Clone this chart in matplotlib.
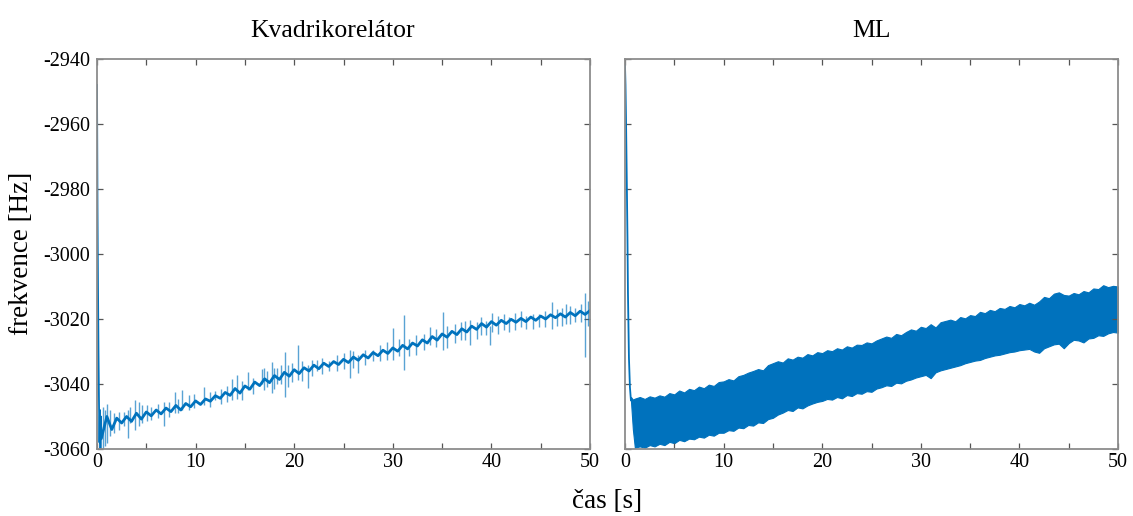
import numpy as np
import matplotlib
matplotlib.use("Agg")
import matplotlib.pyplot as plt
from matplotlib.ticker import MultipleLocator

plt.rcParams['font.family'] = ['Liberation Serif', 'DejaVu Serif']
plt.rcParams['axes.unicode_minus'] = False

BLUE = '#0072BD'

# ---------------- Kvadrikorelator estimate ----------------
# start-up transient
kv_head_t = [0.0, 0.02, 0.05, 0.1, 0.15, 0.2, 0.25, 0.3, 0.35, 0.4, 0.45]
kv_head_v = [-2948, -2962, -2985, -3010, -3030, -3045, -3058, -3048, -3060, -3050, -3057]

# tracked frequency, sampled every 0.5 s from 0.5 s to 50 s
kv_t = np.arange(0.5, 50.01, 0.5)
kv_v = [
    -3056, -3050, -3054, -3050.5, -3052, -3050, -3051.5, -3049, -3050.8, -3048.6,
    -3049.8, -3048, -3049.2, -3047.4, -3048.5, -3046.6, -3048, -3046, -3047, -3045.2,
    -3046.3, -3044.6, -3045.3, -3043.6, -3044.4, -3042.6, -3043.5, -3041.4, -3042.8, -3040.6,
    -3041.6, -3039.4, -3040.5, -3038.4, -3039.6, -3037.4, -3038.6, -3036.4, -3037.6, -3035.6,
    -3036.8, -3035, -3036, -3034.2, -3035.3, -3033.6, -3034.6, -3033.1, -3034, -3032.4,
    -3033.4, -3031.7, -3032.7, -3031, -3032, -3030.3, -3031.3, -3029.6, -3030.6, -3028.9,
    -3029.9, -3028.1, -3029.2, -3027.4, -3028.3, -3026.4, -3027.4, -3025.4, -3026.5, -3024.6,
    -3025.6, -3023.8, -3024.8, -3023, -3024, -3022.2, -3023.2, -3021.4, -3022.5, -3020.8,
    -3021.9, -3020.4, -3021.4, -3020.1, -3021, -3019.8, -3020.8, -3019.4, -3020.4, -3019.1,
    -3020, -3018.7, -3019.6, -3018.4, -3019.4, -3018, -3019, -3017.6, -3018.6, -3017.4,
]

# outlier excursions: time, lowest value, highest value
kv_spike_t = [0.6, 0.8, 1.0, 1.3, 1.7, 2.2, 3.1, 3.3, 3.9, 4.3, 4.6, 5.5, 6.8, 7.9,
              8.6, 9.3, 10.9, 12.0, 13.7, 14.2, 14.7, 15.3, 16.7, 16.9, 17.7, 18.3,
              19.1, 19.4, 20.4, 21.4, 22.3, 23.5, 25.7, 26.0, 26.5, 28.0, 30.0, 31.1,
              31.6, 33.8, 35.1, 35.5, 37.8, 38.5, 39.9, 40.1, 41.8, 43.5, 44.8, 46.1,
              47.2, 48.0, 49.5, 49.8,
              2.7, 5.1, 6.2, 7.3, 8.2, 9.8, 11.5, 12.6, 13.2, 15.8, 17.2, 18.0, 18.7,
              19.8, 20.8, 21.8, 22.8, 24.3, 25.1, 27.2, 28.7, 29.4, 30.6, 32.4, 33.2,
              34.4, 36.3, 36.9, 37.3, 38.9, 39.5, 40.7, 41.3, 42.4, 43.0, 44.2, 45.4,
              46.7, 47.6, 48.5, 49.1]
kv_spike_lo = [-3060, -3059, -3058, -3056, -3055, -3054, -3056.5, -3052, -3054, -3053,
               -3052, -3051, -3053, -3049, -3048, -3048, -3046.5, -3045, -3045, -3044.5,
               -3045, -3041.8, -3040, -3041.8, -3042.8, -3040, -3043.9, -3041, -3038.8,
               -3041.2, -3036, -3036, -3038, -3035, -3036.5, -3033, -3032.6, -3035.7,
               -3031.5, -3028, -3029.5, -3029, -3028, -3026, -3028, -3024, -3024, -3023,
               -3022.5, -3023, -3022, -3021.5, -3031.6, -3022,
               -3053, -3051.5, -3050.5, -3050, -3049, -3047.5, -3047, -3046, -3045.5,
               -3043, -3041, -3041.5, -3040, -3039.5, -3039, -3037.5, -3037, -3036,
               -3035.5, -3034, -3033, -3032.5, -3031.5, -3031, -3029.5, -3028.5, -3027.5,
               -3026.5, -3026.5, -3025, -3025, -3024.5, -3023.5, -3023.5, -3022.5, -3023,
               -3022.5, -3022, -3021.5, -3021, -3021]
kv_spike_hi = [-3047, -3048, -3046, -3048, -3049, -3048.5, -3048, -3047, -3045, -3045.5,
               -3046.5, -3047, -3045.4, -3042.4, -3041.8, -3043.5, -3040.8, -3042, -3038.5,
               -3037.2, -3039, -3036.2, -3035.4, -3035, -3033.1, -3035, -3030, -3034,
               -3028, -3034, -3032.6, -3033, -3029.5, -3029.8, -3031, -3029.5, -3022.8,
               -3018.8, -3026, -3022.4, -3017.8, -3022, -3020.3, -3021, -3022, -3018,
               -3019.5, -3019, -3018.5, -3014.9, -3016.5, -3016, -3011.9, -3014.5,
               -3048.5, -3046.5, -3046, -3045.5, -3044.5, -3043, -3042.5, -3041.5, -3040.5,
               -3038, -3036, -3035, -3034, -3033.5, -3033, -3032.5, -3032, -3031,
               -3030.5, -3029.5, -3028, -3027, -3026, -3025, -3024.5, -3023, -3021.5,
               -3021, -3020.5, -3019.5, -3020.5, -3019, -3018.5, -3018, -3017.5, -3018.5,
               -3017.5, -3017, -3015.5, -3016.5, -3015.5]

# ---------------- ML estimate ----------------
ml_head_t = [0.0, 0.05, 0.1, 0.15, 0.2, 0.25, 0.3, 0.35, 0.4, 0.5, 0.6]
ml_head_v = [-2942, -2948, -2958, -2970, -2982, -2995, -3012, -3022, -3032, -3041, -3045]

# envelope of the fast oscillation (upper / lower), 0.6 s, 0.8 s, then every 0.5 s
ml_band_t = np.concatenate([[0.6, 0.8], np.arange(1.0, 50.01, 0.5)])
ml_upper = [
    -3044.0, -3044.8,
    -3044.5, -3044.0, -3044.6, -3043.8, -3044.2, -3043.5, -3043.9, -3042.8, -3043.2, -3042.0,
    -3042.6, -3041.5, -3041.9, -3040.8, -3041.3, -3040.2, -3040.6, -3039.4, -3039.2, -3038.5,
    -3038.9, -3037.6, -3037.2, -3036.5, -3036.0, -3035.4, -3035.8, -3034.2, -3033.6, -3033.0,
    -3033.4, -3032.1, -3032.5, -3031.6, -3031.9, -3030.8, -3031.2, -3030.2, -3030.5, -3029.6,
    -3029.9, -3029.0, -3029.4, -3028.4, -3028.8, -3027.9, -3028.0, -3027.2, -3027.5, -3026.6,
    -3026.0, -3025.4, -3025.8, -3024.6, -3025.0, -3024.0, -3023.2, -3023.6, -3022.4, -3022.8,
    -3021.6, -3022.6, -3021.0, -3020.6, -3020.2, -3020.7, -3019.4, -3019.8, -3018.8, -3019.1,
    -3017.8, -3018.2, -3017.2, -3017.6, -3016.6, -3016.9, -3016.0, -3016.4, -3015.4, -3015.8,
    -3015.0, -3015.6, -3014.6, -3013.2, -3013.6, -3012.2, -3011.8, -3012.6, -3012.8, -3012.0,
    -3012.4, -3011.4, -3011.8, -3010.6, -3010.8, -3009.6, -3010.2, -3009.8, -3010.0,
]
ml_lower = [
    -3045.0, -3054.0,
    -3059.6, -3059.2, -3059.6, -3058.8, -3059.2, -3058.4, -3058.8, -3057.8, -3058.2, -3057.2,
    -3057.6, -3056.8, -3057.0, -3056.2, -3056.5, -3055.6, -3055.9, -3055.0, -3055.0, -3054.2,
    -3054.4, -3053.4, -3053.6, -3052.6, -3052.8, -3051.8, -3052.0, -3050.8, -3050.4, -3049.4,
    -3048.8, -3048.0, -3048.3, -3047.2, -3047.5, -3046.6, -3046.0, -3045.5, -3045.2, -3044.6,
    -3044.8, -3044.0, -3044.4, -3043.4, -3043.7, -3042.8, -3043.0, -3042.2, -3042.4, -3041.4,
    -3041.0, -3040.4, -3040.6, -3039.6, -3039.8, -3039.0, -3038.6, -3038.0, -3037.6, -3037.2,
    -3038.2, -3036.4, -3035.8, -3035.4, -3035.0, -3034.6, -3034.2, -3033.6, -3033.2, -3032.8,
    -3032.6, -3032.0, -3031.6, -3031.2, -3031.0, -3030.6, -3030.2, -3030.0, -3029.6, -3029.4,
    -3029.2, -3030.0, -3030.4, -3029.0, -3028.4, -3027.8, -3027.6, -3029.0, -3027.4, -3026.4,
    -3026.6, -3027.2, -3026.0, -3025.8, -3025.0, -3025.2, -3024.4, -3024.0, -3024.2,
]

titles = ['Kvadrikorelátor', 'ML']

fig = plt.figure(figsize=(11.33, 5.16), dpi=100)
W, H = 1133, 516
ax1 = fig.add_axes([97 / W, 67 / H, 493 / W, 390 / H])
ax2 = fig.add_axes([625 / W, 67 / H, 493 / W, 390 / H])

# left panel
ax1.plot(kv_head_t + [kv_t[0]], kv_head_v + [kv_v[0]], color=BLUE, lw=1.3)
ax1.vlines(kv_spike_t, kv_spike_lo, kv_spike_hi, color=BLUE, lw=1.0, alpha=0.65)
ax1.plot(kv_t, kv_v, color=BLUE, lw=2.0)

# right panel
ax2.plot(ml_head_t, ml_head_v, color=BLUE, lw=1.3)
ax2.fill_between(ml_band_t, ml_lower, ml_upper, color=BLUE, lw=0.8, edgecolor=BLUE)

for ax, title in zip((ax1, ax2), titles):
    ax.set_xlim(0, 50)
    ax.set_ylim(-3060, -2940)
    ax.xaxis.set_major_locator(MultipleLocator(10))
    ax.xaxis.set_minor_locator(MultipleLocator(5))
    ax.yaxis.set_major_locator(MultipleLocator(20))
    ax.tick_params(which='both', direction='in', top=True, right=True,
                   length=4, width=0.9, color='#555555', labelsize=14.5)
    ax.tick_params(axis='x', pad=3)
    ax.tick_params(axis='y', pad=5)
    for sp in ax.spines.values():
        sp.set_color('#8c8c8c')
        sp.set_linewidth(1.3)
    ax.set_title(title, fontsize=18.5, pad=16)

ax1.title.set_x(0.477)
ax2.tick_params(axis='y', labelleft=False)

fig.text(22 / W, 1 - 253 / H, 'frekvence [Hz]', rotation=90, ha='center', va='center',
         fontsize=19.5)
fig.text(607 / W, 1 - 502 / H, 'čas [s]', ha='center', va='center', fontsize=19.5)

fig.savefig('out.png', dpi=100)
